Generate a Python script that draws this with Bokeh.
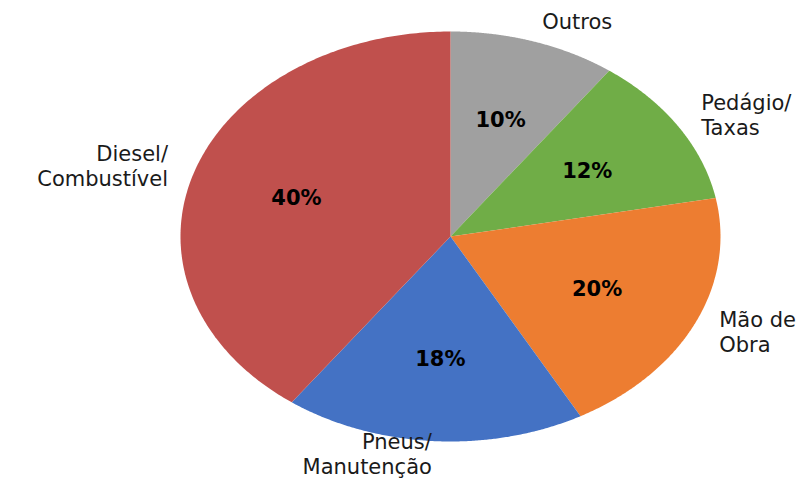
import numpy as np
from bokeh.plotting import figure
from bokeh.models import Range1d, ColumnDataSource
from bokeh.core.properties import value
from bokeh.embed import file_html
from bokeh.resources import INLINE

# ---- data ----
categories = ["Outros", "Pedágio/\nTaxas", "Mão de\nObra", "Pneus/\nManutenção", "Diesel/\nCombustível"]
shares = [10, 12, 20, 18, 40]
colors = ["#A0A0A0", "#70AD47", "#ED7D31", "#4472C4", "#C0504D"]

# ---- layout ----
W, H = 811, 479
cx, cy = 450, 236      # pie centre (pixels, y down)
rx, ry = 270, 205      # ellipse radii
inner_frac = 0.6
outer_frac = 1.1
bottom_limit = H - 25  # keep two-line labels inside the page

p = figure(width=W, height=H, output_backend="svg", toolbar_location=None,
           x_range=Range1d(0, W), y_range=Range1d(H, 0), min_border=0)
p.axis.visible = False
p.grid.visible = False
p.outline_line_color = None
p.background_fill_color = "white"
p.border_fill_color = "white"

total = float(sum(shares))
fracs = np.array(shares) / total
cum = np.concatenate([[0], np.cumsum(fracs)])

xs, ys = [], []
mid_x_in, mid_y_in, out_x, out_y, aligns, pct = [], [], [], [], [], []
for i, f in enumerate(fracs):
    a0 = np.pi / 2 - 2 * np.pi * cum[i]
    a1 = np.pi / 2 - 2 * np.pi * cum[i + 1]
    t = np.linspace(a0, a1, 200)
    xs.append(list(np.concatenate([[cx], cx + rx * np.cos(t), [cx]])))
    ys.append(list(np.concatenate([[cy], cy - ry * np.sin(t), [cy]])))
    am = (a0 + a1) / 2
    mid_x_in.append(cx + inner_frac * rx * np.cos(am))
    mid_y_in.append(cy - inner_frac * ry * np.sin(am))
    out_x.append(cx + outer_frac * rx * np.cos(am))
    out_y.append(min(cy - outer_frac * ry * np.sin(am), bottom_limit))
    aligns.append("left" if np.cos(am) > 0 else "right")
    pct.append(f"{shares[i]:.0f}%")

p.patches(xs=xs, ys=ys, fill_color=colors, line_color=None)

src_in = ColumnDataSource(dict(x=mid_x_in, y=mid_y_in, t=pct))
p.text(x="x", y="y", text="t", source=src_in, text_align="center", text_baseline="middle",
       text_font=value("DejaVu Sans"), text_font_style="bold", text_font_size="21px",
       text_color="#000000")

src_out = ColumnDataSource(dict(x=out_x, y=out_y, t=categories, a=aligns))
p.text(x="x", y="y", text="t", source=src_out, text_align="a", text_baseline="middle",
       text_font=value("DejaVu Sans"), text_font_size="21px", text_color="#1a1a1a",
       text_line_height=1.05)

open("out.html", "w").write(file_html(p, INLINE))
